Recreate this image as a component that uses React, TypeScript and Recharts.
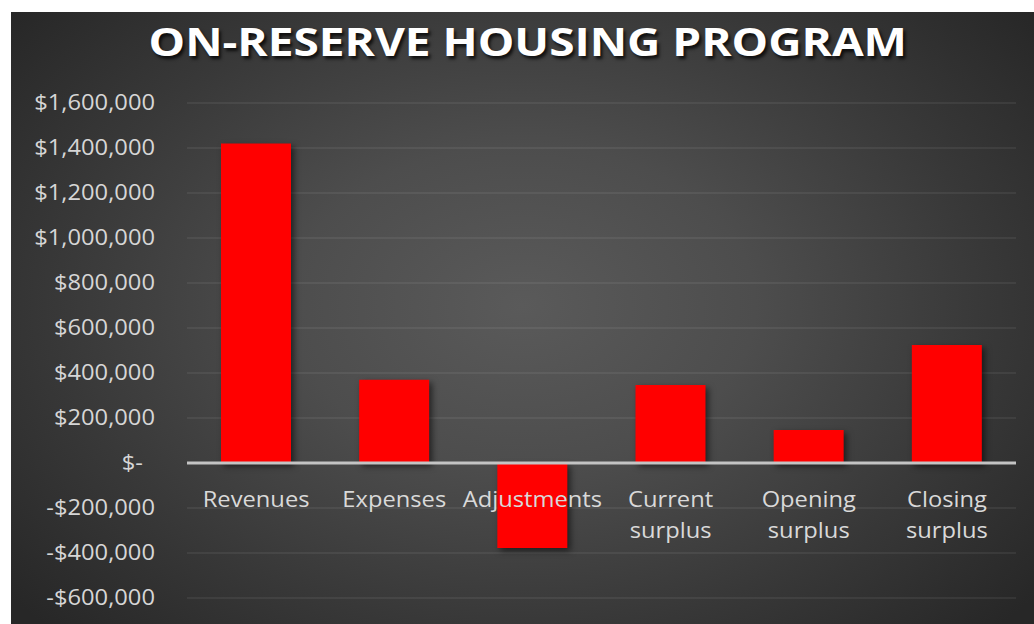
import React from 'react';
import { BarChart, Bar, XAxis, YAxis, CartesianGrid, ReferenceLine, Rectangle } from 'recharts';

const TITLE = 'ON-RESERVE HOUSING PROGRAM';
const categories = ['Revenues', 'Expenses', 'Adjustments', 'Current surplus', 'Opening surplus', 'Closing surplus'];
const values = [1420000, 370000, -378000, 347000, 147000, 524000];
const yTicks = [-600000, -400000, -200000, 0, 200000, 400000, 600000, 800000, 1000000, 1200000, 1400000, 1600000];
const Y_MIN = -600000;
const Y_MAX = 1600000;

const data = categories.map((name, i) => ({ name, value: values[i] }));

const CHART_W = 1023;
const CHART_H = 612;
const X_AXIS_H = 20;
const MARGIN = { top: 91, right: 18, bottom: 6, left: 0 };
const PLOT_H = CHART_H - MARGIN.top - MARGIN.bottom - X_AXIS_H;
const ZERO_Y = MARGIN.top + (PLOT_H * Y_MAX) / (Y_MAX - Y_MIN);

const FONT = '"Open Sans", "DejaVu Sans", sans-serif';
const STRETCH = 1.13;

const fmt = (v: number) =>
  v === 0 ? '$-' : (v < 0 ? '-' : '') + '$' + Math.abs(v).toLocaleString('en-US');

const YTick = (props: any) => {
  const { x, y, payload } = props;
  const v = payload.value as number;
  const dx = v === 0 ? -12 : 0;
  return (
    <text
      transform={`translate(${x + dx},${y}) scale(${STRETCH},1)`}
      textAnchor="end"
      dy="0.355em"
      fill="#d6d6d6"
      fontSize={21}
      fontFamily={FONT}
    >
      {fmt(v)}
    </text>
  );
};

const XTick = (props: any) => {
  const { x, payload } = props;
  const words = String(payload.value).split(' ');
  return (
    <g transform={`translate(${x},${ZERO_Y + 44}) scale(${STRETCH},1)`}>
      {words.map((w, i) => (
        <text
          key={i}
          x={0}
          y={i * 31}
          textAnchor="middle"
          fill="#d9d9d9"
          fontSize={21}
          fontFamily={FONT}
        >
          {w}
        </text>
      ))}
    </g>
  );
};

const BarShape = (props: any) => (
  <Rectangle {...props} style={{ filter: 'drop-shadow(3px 3px 3px rgba(0,0,0,0.55))' }} />
);

export default function App() {
  return (
    <div style={{ position: 'absolute', left: 0, top: 0, width: 1034, height: 624, background: '#ffffff', overflow: 'hidden' }}>
      <div
        style={{
          position: 'absolute',
          left: 11,
          top: 12,
          width: CHART_W,
          height: CHART_H,
          background:
            'radial-gradient(ellipse 65% 75% at 50% 48%, #5a5a5a 0%, #4d4d4d 35%, #383838 70%, #272727 100%)',
        }}
      >
        <div
          style={{
            position: 'absolute',
            left: 0,
            top: 6,
            width: CHART_W,
            textAlign: 'center',
            fontFamily: FONT,
            fontWeight: 700,
            fontSize: 40,
            lineHeight: '46px',
            color: '#ffffff',
            textShadow: '2px 3px 3px rgba(0,0,0,0.75)',
            whiteSpace: 'nowrap',
          }}
        >
          <span style={{ display: 'inline-block', transform: 'translateX(5px) scaleX(1.15)' }}>{TITLE}</span>
        </div>
        <BarChart width={CHART_W} height={CHART_H} data={data} margin={MARGIN}>
          <CartesianGrid vertical={false} stroke="rgba(255,255,255,0.13)" strokeWidth={1} />
          <XAxis
            dataKey="name"
            height={X_AXIS_H}
            axisLine={false}
            tickLine={false}
            interval={0}
            tick={<XTick />}
          />
          <YAxis
            width={176}
            domain={[Y_MIN, Y_MAX]}
            ticks={yTicks}
            interval={0}
            axisLine={false}
            tickLine={false}
            tickSize={0}
            tickMargin={32}
            tick={<YTick />}
          />
          <Bar dataKey="value" fill="#ff0000" barSize={70} isAnimationActive={false} shape={<BarShape />} />
          <ReferenceLine y={0} stroke="#c4c4c4" strokeWidth={3} />
        </BarChart>
      </div>
    </div>
  );
}
